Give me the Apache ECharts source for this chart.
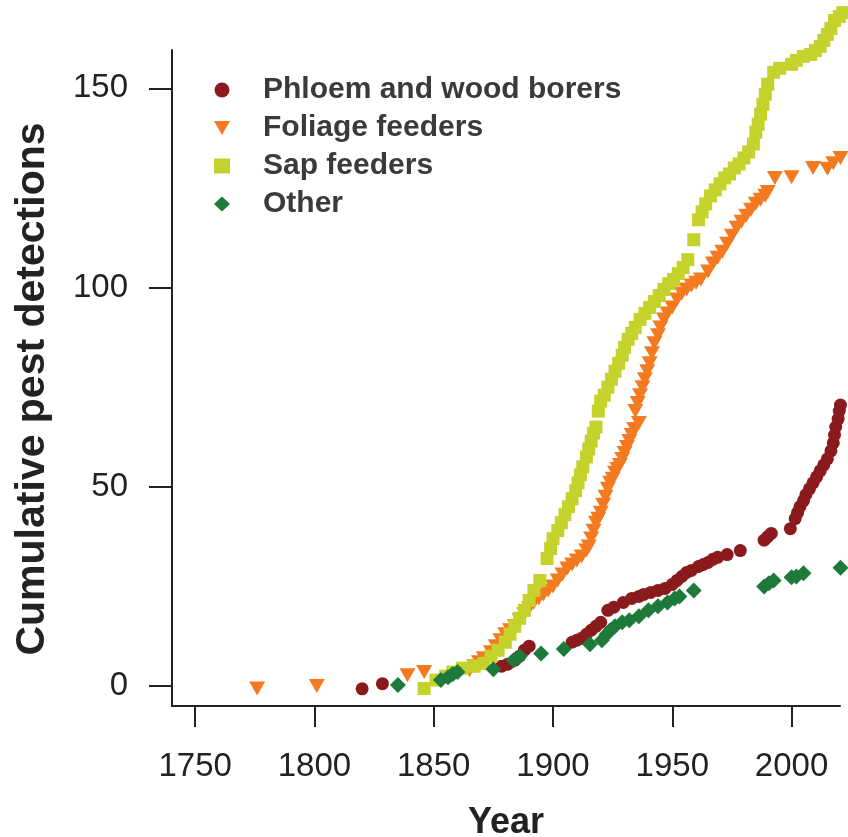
<!DOCTYPE html>
<html>
<head>
<meta charset="utf-8">
<script src="https://cdn.jsdelivr.net/npm/echarts@6/dist/echarts.min.js"></script>
<style>
html,body{margin:0;padding:0;background:#fff;}
#chart{width:848px;height:837px;}
</style>
</head>
<body>
<div id="chart"></div>
<script>
// ---- data (year, cumulative detections) ----
const seriesNames = ['Phloem and wood borers', 'Foliage feeders', 'Sap feeders', 'Other'];
const xTicks = [1750, 1800, 1850, 1900, 1950, 2000];
const yTicks = [0, 50, 100, 150];

const phloem = [
  [1820,-0.7],[1828.5,0.6],[1878.5,5],[1881,5.5],[1884,6.5],[1886,7.5],[1888,9],[1890,10],
  [1908,11],[1910,11.5],[1912,12],[1914,13],[1916,14],[1918,15],[1920,16],[1923,19],[1925.5,19.8],
  [1929.5,21],[1933,22],[1936,22.5],[1938,23],[1941,23.5],[1944,24],[1947,24.5],[1950,25.5],
  [1952,26.5],[1954,27.5],[1956,28.5],[1958,29],[1961,30],[1963,30.5],[1965,31],[1967,31.8],
  [1969,32.3],[1973,33],[1978.5,34],[1988.5,36.6],[1990,37.5],[1991.5,38.3],[1999.5,39.5],
  [2001.5,42],[2002.5,43.5],[2003.5,45],[2005,46.5],[2006,48],[2007.5,49.5],[2009,51],[2010.5,52.5],
  [2012,54],[2013.5,55.5],[2015,57],[2016.5,59],[2017.5,61],[2018,63],[2018.5,65],[2019.5,67],
  [2020,69],[2020.5,70.5]
];

const foliage = [
  [1776,-0.6],[1801,0],[1839,2.7],[1846,3.5],[1865,4],[1867,5],[1869,6],[1871,7],[1874,8.5],
  [1876,10],[1878,11.5],[1880,13],[1882,14],[1884,15],[1886,16.5],[1888,18],[1890,19.5],[1892,21],
  [1894,22],[1896,23],[1898,24],[1900,25],[1902,26.5],[1904,28],[1906,29.5],[1908,30.5],[1910,31.5],
  [1912,32.5],[1914,34],[1915,35],[1916,37],[1917,39],[1918,41],[1919,42],[1920,43.5],[1921,45.5],
  [1922,47.5],[1923,49.5],[1924,51],[1925,52],[1926,53.5],[1927,54.5],[1928,55.5],[1929,57],
  [1930,58.5],[1931,60],[1932,61.5],[1933,63],[1934,64.5],[1936,66],[1934.5,69],[1935.5,71],
  [1936.5,73],[1937.5,75],[1938.5,77],[1939.5,79],[1940.5,81],[1941.5,83.5],[1942.5,86],[1944,88],
  [1945,90],[1946.5,92],[1948,93.5],[1950,95],[1952,97],[1954,98.5],[1956,99.5],[1958,100.5],
  [1960,101.2],[1962,102],[1965,104],[1967,106],[1969,107.5],[1971,109],[1973,111],[1975,113],
  [1977,115],[1979,116.5],[1981,118],[1983,119.5],[1985,121],[1987,122],[1989,123],[1990,124],
  [1993,127.5],[2000,127.7],[2009,130],[2015,129.8],[2017.5,131.2],[2020.5,132.5]
];

const sap = [
  [1846,-0.6],[1851,1.5],[1855,2.5],[1858,3.5],[1862,4.5],[1867,5],[1871,5.7],[1874,7.5],[1877,9],
  [1880,11],[1882,13],[1884,15],[1886,17],[1888,19],[1890,21.5],[1892,24],[1894.5,26.5],[1897.5,32],
  [1899,34.5],[1900,37],[1902,39],[1903.5,41],[1905,43],[1906.5,45],[1908,47],[1909.5,49],[1910.5,51],
  [1911.5,53],[1912.5,55],[1914,57.5],[1915,59.5],[1916,61.5],[1917,63.5],[1918,65],[1919,69],
  [1920,71.5],[1921.5,73],[1923,75],[1924.5,77],[1926,79],[1927.5,81],[1929,83],[1930,85],[1931.5,87],
  [1933,88.5],[1934.5,90],[1936.5,92],[1938.5,93.5],[1940.5,95],[1942.5,96.5],[1944.5,98],[1946.5,99.5],
  [1948.5,101],[1950.5,102],[1952.5,103.5],[1954.5,105],[1956.5,107],[1959,112],[1961,117],[1962.5,119],
  [1964,121],[1966,123],[1968,124.5],[1970,126],[1972,127.5],[1974,128.5],[1976,130],[1978,131],
  [1980,132.5],[1982,134],[1984,136],[1985,139],[1986,141],[1987,143.5],[1988,146],[1989,148.5],
  [1990,151],[1992.5,154],[1995,155],[2000,156],[2002,157],[2005,158],[2008,158.5],[2010,159.5],
  [2012,160.5],[2013.5,162],[2015,163.5],[2016.5,165],[2018,167],[2020,168],[2021.5,169]
];

const other = [
  [1835,0.3],[1853,1.5],[1856,2.2],[1858,3],[1860,3.5],[1875,4.2],[1883.5,6.5],[1886,7.5],[1895,8.2],
  [1904.5,9.3],[1915.5,10.5],[1920.5,11.5],[1922.5,13],[1924,14],[1926,15],[1929,16],[1932,16.5],
  [1936,17.5],[1940,19],[1944,20],[1948,21],[1951,22],[1953,22.5],[1959,24],[1988.5,25],[1990.5,25.8],
  [1992.5,26.5],[2000,27.3],[2002,27.5],[2005,28.3],[2020.5,29.7]
];

const colors = ['#8b1a1c', '#f37a20', '#c6d22c', '#1d7a3a'];
const FONT = "'Liberation Sans', Arial, Helvetica, sans-serif";
const downTri = 'path://M0,0 L16,0 L8,14 Z';

const chart = echarts.init(document.getElementById('chart'), null, {renderer: 'canvas'});
const mk = (name, data, symbol, size, color) => ({
  name, type: 'scatter', data, symbol, symbolSize: size, clip: false,
  itemStyle: {color, opacity: 1}, emphasis: {disabled: true}, animation: false
});
const plain = v => String(Math.round(v));

chart.setOption({
  backgroundColor: '#fff',
  animation: false,
  textStyle: {fontFamily: FONT},
  grid: {left: 172, right: 8, top: 50, bottom: 131, containLabel: false, outerBoundsMode: 'none'},
  legend: {
    orient: 'vertical', left: 209, top: 70,
    itemWidth: 16, itemHeight: 15, itemGap: 8,
    data: seriesNames,
    textStyle: {fontFamily: FONT, fontSize: 30, fontWeight: 'bold', color: '#3a3a3a', lineHeight: 30, padding: [0, 0, 0, 28]},
    selectedMode: false
  },
  xAxis: {
    type: 'value', min: 1740.3, max: 2020.3,
    name: 'Year', nameLocation: 'middle', nameGap: 99,
    nameTextStyle: {fontFamily: FONT, fontSize: 36, fontWeight: 'bold', color: '#222'},
    axisLine: {show: true, onZero: false, lineStyle: {color: '#222', width: 2}},
    axisTick: {show: true, length: 21, lineStyle: {color: '#222', width: 2}, customValues: xTicks},
    axisLabel: {fontFamily: FONT, fontSize: 33, color: '#222', margin: 44, customValues: xTicks, formatter: plain},
    splitLine: {show: false}
  },
  yAxis: {
    type: 'value', min: -5, max: 159.6,
    name: 'Cumulative pest detections', nameLocation: 'middle', nameGap: 119, nameRotate: 90,
    nameTextStyle: {fontFamily: FONT, fontSize: 41, fontWeight: 'bold', color: '#222', padding: [0, 22, 0, 0]},
    axisLine: {show: true, onZero: false, lineStyle: {color: '#222', width: 2}},
    axisTick: {show: true, length: 23, lineStyle: {color: '#222', width: 2}, customValues: yTicks},
    axisLabel: {fontFamily: FONT, fontSize: 33, color: '#222', margin: 44, customValues: yTicks, formatter: plain},
    splitLine: {show: false}
  },
  series: [
    mk(seriesNames[0], phloem, 'circle', 13, colors[0]),
    mk(seriesNames[1], foliage, downTri, [16, 14], colors[1]),
    mk(seriesNames[2], sap, 'rect', 13, colors[2]),
    mk(seriesNames[3], other, 'diamond', 16, colors[3])
  ]
});
</script>
</body>
</html>
